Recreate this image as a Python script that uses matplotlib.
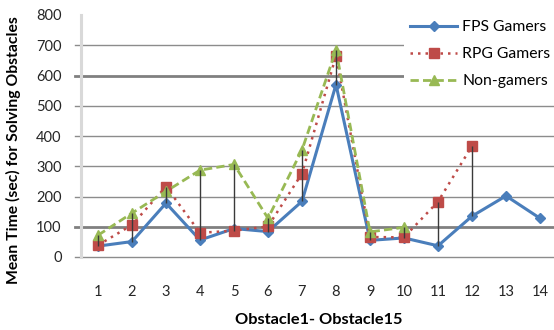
import numpy as np
import matplotlib
matplotlib.use("Agg")
import matplotlib.pyplot as plt

plt.rcParams['font.family'] = ['Lato', 'DejaVu Sans']

# data (None = no value for that obstacle)
obstacles = list(range(1, 15))
fps_gamers = [36, 51, 178, 56, 94, 84, 184, 570, 55, 63, 37, 135, 202, 128]
rpg_gamers = [39, 106, 233, 80, 87, 101, 276, 665, 66, 65, 183, 367, None, None]
non_gamers = [72, 145, 217, 287, 306, 128, 354, 684, 83, 98, None, None, None, None]
y_ticks = [0, 100, 200, 300, 400, 500, 600, 700, 800]

def clean(vals):
    return np.array([np.nan if v is None else v for v in vals], dtype=float)

fps = clean(fps_gamers)
rpg = clean(rpg_gamers)
non = clean(non_gamers)
x = np.array(obstacles)

fig = plt.figure(figsize=(5.54, 3.30), dpi=100)
ax = fig.add_axes([81 / 554, 73 / 330, 476 / 554, 242 / 330])

# gridlines (100 and 600 are heavier in the reference)
for v in y_ticks[:-1]:
    heavy = v in (100, 600)
    ax.axhline(v, xmin=-6 / 476, xmax=1, color="#808080" if heavy else "#8C8C8C",
               lw=2.0 if heavy else 1.0, clip_on=False, zorder=1)

ax.plot(x, fps, color="#4A7EBB", lw=2.2, marker="D", markersize=5,
        label="FPS Gamers", zorder=3)
ax.plot(x, rpg, color="#BE4B48", lw=1.8, linestyle=(0, (1, 2.0)), marker="s",
        markersize=7.5, label="RPG Gamers", zorder=4)
ax.plot(x, non, color="#98B954", lw=2.0, linestyle=(0, (3, 1.5)), marker="^",
        markersize=7.5, label="Non-gamers", zorder=5)

# high-low lines
stack = np.vstack([fps, rpg, non])
counts = np.sum(~np.isnan(stack), axis=0)
hi = np.nanmax(stack, axis=0)
lo = np.nanmin(stack, axis=0)
m = counts > 1
ax.vlines(x[m], lo[m], hi[m], color="#3A3A3A", lw=1.0, zorder=6)

ax.set_xlim(0.5, 14.5)
ax.set_ylim(0, 800)
ax.set_xticks(x)
ax.set_yticks(y_ticks)
ax.tick_params(axis="x", length=0, pad=20, labelsize=10.5, labelcolor="#262626")
ax.tick_params(axis="y", length=0, pad=14, labelsize=10.5, labelcolor="#262626")

for s in ["top", "right", "bottom"]:
    ax.spines[s].set_visible(False)
ax.spines["left"].set_color("#D9D9D9")
ax.spines["left"].set_linewidth(2.2)

fig.text(13 / 554, 1 - 150 / 330, "Mean Time (sec) for Solving Obstacles",
         rotation=90, ha="center", va="center", fontsize=11.3, fontweight="bold")
fig.text(319 / 554, 1 - 320 / 330, "Obstacle1- Obstacle15",
         ha="center", va="center", fontsize=11.8, fontweight="bold")

leg = ax.legend(loc="upper left", bbox_to_anchor=(404 / 554, 1 - 14 / 330),
                bbox_transform=fig.transFigure, frameon=True, fancybox=False,
                edgecolor="none", facecolor="white", framealpha=1, fontsize=11.3,
                handlelength=3.0, handletextpad=0.3, labelspacing=0.82,
                borderpad=0.4, borderaxespad=0)
leg.set_zorder(10)

fig.savefig("out.png", dpi=100)
